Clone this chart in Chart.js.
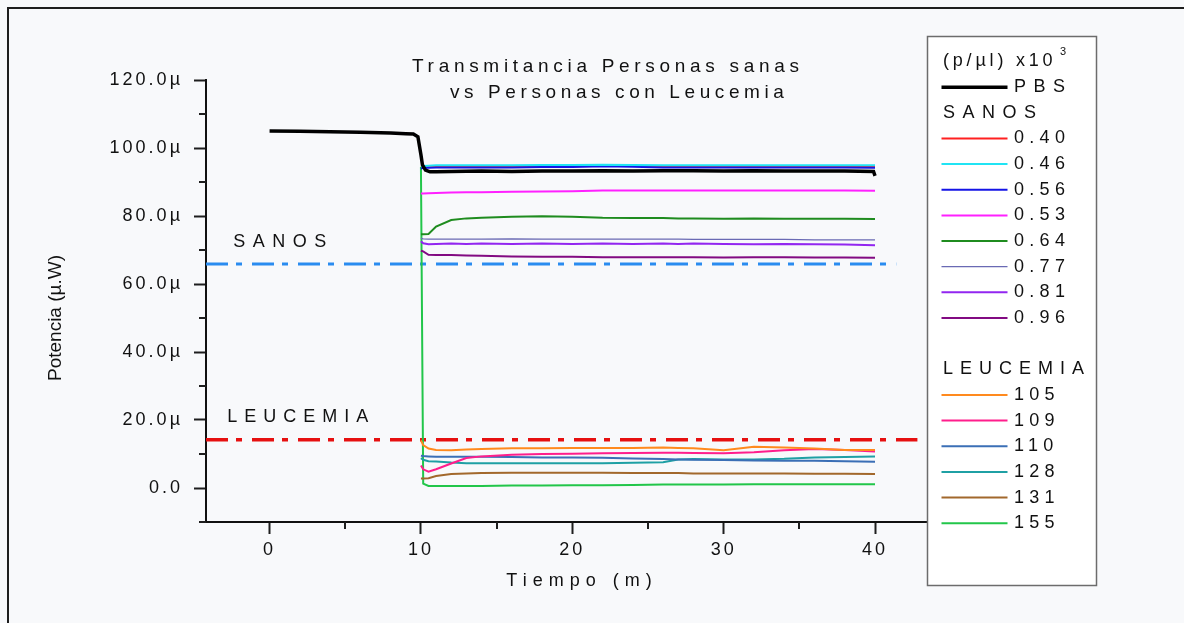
<!DOCTYPE html>
<html>
<head>
<meta charset="utf-8">
<script src="https://cdn.jsdelivr.net/npm/chart.js@4/dist/chart.umd.min.js"></script>
<style>
  html, body { margin: 0; padding: 0; background: #f8f9fb; }
  canvas { display: block; }
</style>
</head>
<body>
<canvas id="chart" width="1184" height="623"></canvas>
<script>
// ---- data (time in minutes, power in microwatts) ----
const tPBS = [0, 2, 4, 6, 8, 9, 9.5, 9.8, 10, 10.1, 10.3, 10.6, 11, 12, 14, 16, 18, 20, 22, 24, 26, 28, 30, 32, 34, 36, 38, 39.9, 40];
const pbs  = [105.0, 104.9, 104.8, 104.6, 104.4, 104.2, 104.1, 103.3, 98.0, 95.0, 93.5, 93.0, 93.0, 93.1, 93.2, 93.1, 93.2, 93.2, 93.3, 93.2, 93.3, 93.3, 93.2, 93.3, 93.2, 93.2, 93.2, 93.1, 91.8];

const tAfter = [10, 10.15, 10.5, 11, 12, 13, 14, 16, 18, 20, 22, 24, 26, 27, 28, 30, 32, 34, 36, 38, 40];

// sanos
const s040 = [94.5, 94.5, 94.6, 94.6, 94.6, 94.6, 94.6, 94.6, 94.6, 94.6, 94.7, 94.7, 94.6, 94.6, 94.6, 94.6, 94.6, 94.6, 94.6, 94.6, 94.6];
const s046 = [94.6, 94.7, 94.8, 94.9, 94.9, 94.9, 94.9, 94.9, 95.0, 95.0, 95.1, 95.0, 94.9, 94.9, 94.9, 94.9, 94.9, 94.9, 94.9, 94.9, 94.9];
const s056 = [94.0, 94.1, 94.2, 94.3, 94.3, 94.3, 94.3, 94.3, 94.4, 94.4, 94.6, 94.5, 94.3, 94.3, 94.3, 94.3, 94.3, 94.3, 94.3, 94.3, 94.2];
const s053 = [86.6, 86.6, 86.7, 86.8, 86.9, 87.0, 87.0, 87.1, 87.2, 87.3, 87.5, 87.5, 87.5, 87.5, 87.5, 87.5, 87.5, 87.5, 87.5, 87.5, 87.4];
const s064 = [74.6, 74.6, 74.7, 76.9, 78.8, 79.3, 79.5, 79.8, 79.9, 79.8, 79.5, 79.4, 79.4, 79.3, 79.3, 79.2, 79.3, 79.2, 79.2, 79.2, 79.1];
const s077 = [73.4, 73.3, 73.2, 73.2, 73.2, 73.2, 73.2, 73.3, 73.2, 73.2, 73.2, 73.2, 73.2, 73.2, 73.1, 73.1, 73.1, 73.1, 73.0, 73.0, 73.0];
const s081 = [72.6, 72.0, 71.7, 71.8, 71.9, 71.8, 71.9, 71.8, 71.9, 71.8, 71.9, 71.8, 71.9, 71.8, 71.9, 71.8, 71.7, 71.8, 71.7, 71.6, 71.4];
const s096 = [69.8, 69.6, 68.6, 68.5, 68.5, 68.4, 68.3, 68.1, 68.0, 68.0, 67.9, 67.9, 67.9, 67.9, 67.9, 67.8, 67.9, 67.9, 67.8, 67.8, 67.7];

// leucemia
const l105 = [14.0, 12.6, 11.6, 11.2, 11.1, 11.3, 11.5, 11.7, 11.7, 11.8, 11.8, 11.8, 11.9, 11.8, 11.7, 11.1, 12.1, 11.9, 11.6, 11.2, 11.2];
const l109 = [6.6, 5.5, 4.8, 5.5, 7.2, 8.8, 9.3, 9.8, 10.0, 10.1, 10.2, 10.3, 10.4, 10.4, 10.3, 10.2, 10.5, 11.1, 11.5, 11.2, 10.7];
const l110 = [9.5, 9.4, 9.3, 9.2, 9.2, 9.2, 9.2, 9.1, 9.0, 9.0, 8.9, 8.7, 8.5, 8.4, 8.3, 8.2, 8.1, 8.0, 8.0, 7.9, 7.7];
const l128 = [8.8, 8.3, 7.9, 7.8, 7.5, 7.3, 7.3, 7.3, 7.3, 7.3, 7.3, 7.4, 7.6, 8.4, 8.5, 8.4, 8.4, 8.6, 9.0, 9.1, 9.3];
const l131 = [2.8, 2.8, 2.9, 3.5, 4.1, 4.3, 4.4, 4.5, 4.5, 4.5, 4.5, 4.4, 4.4, 4.4, 4.3, 4.3, 4.3, 4.3, 4.2, 4.2, 4.1];
const l155 = [94.5, 1.3, 0.6, 0.6, 0.6, 0.6, 0.6, 0.7, 0.7, 0.8, 0.8, 0.9, 1.0, 1.0, 1.0, 1.0, 1.1, 1.1, 1.1, 1.1, 1.1];

const sanosLabels = ['0.40', '0.46', '0.56', '0.53', '0.64', '0.77', '0.81', '0.96'];
const sanosSeries = [s040, s046, s056, s053, s064, s077, s081, s096];
const leucLabels = ['105', '109', '110', '128', '131', '155'];
const leucSeries = [l105, l109, l110, l128, l131, l155];

// reference levels (dash-dot lines)
const refSanos = 65.9;
const refSanosX = [-4.2, 41.4];
const refLeuc = 14.2;
const refLeucX = [-4.2, 42.8];

const xTicks = [0, 10, 20, 30, 40];
const xMinor = [5, 15, 25, 35];
const yTicks = [0, 20, 40, 60, 80, 100, 120];
const yMinor = [-10, 10, 30, 50, 70, 90, 110];

// ---- styles ----
const sanosColors = ['#ff2020', '#20e4f4', '#1414e6', '#ff20ff', '#1f8c1f', '#6a6ab4', '#9226f0', '#820a82'];
const sanosWidths = [2, 2, 2, 2, 2, 1.2, 2, 2];
const leucColors = ['#ff8a1e', '#ff1e8c', '#3b6fb6', '#1fa0a4', '#a2682c', '#22c64a'];

const FONT = "'Liberation Sans', Arial, sans-serif";

function pts(xs, ys) {
  return xs.map((x, i) => ({ x: x, y: ys[i] }));
}

const datasets = [];
datasets.push({ label: 'PBS', data: pts(tPBS, pbs), borderColor: '#000000', borderWidth: 3.5, order: 0 });
sanosSeries.forEach((s, i) => {
  datasets.push({ label: sanosLabels[i], data: pts(tAfter, s), borderColor: sanosColors[i], borderWidth: sanosWidths[i], order: i === 0 ? 5 : 1 });
});
leucSeries.forEach((s, i) => {
  datasets.push({ label: leucLabels[i], data: pts(tAfter, s), borderColor: leucColors[i], borderWidth: 2, order: 2 });
});
datasets.push({ label: 'refSanos', data: pts(refSanosX, [refSanos, refSanos]), borderColor: '#2a8cf0', borderWidth: 3, borderDash: [22, 8, 6, 10], order: 3 });
datasets.push({ label: 'refLeuc', data: pts(refLeucX, [refLeuc, refLeuc]), borderColor: '#e61010', borderWidth: 3.5, borderDash: [22, 8, 6, 10], order: 3 });

function spacedText(ctx, text, x, y, size, spacing, align) {
  ctx.font = size + 'px ' + FONT;
  ctx.letterSpacing = spacing + 'px';
  ctx.textAlign = align || 'left';
  ctx.fillText(text, x, y);
}

const decor = {
  id: 'decor',
  beforeDraw(chart) {
    const ctx = chart.ctx;
    ctx.save();
    ctx.strokeStyle = '#1e1e1e';
    ctx.lineWidth = 2;
    ctx.beginPath();
    ctx.moveTo(8, 623);
    ctx.lineTo(8, 8);
    ctx.lineTo(1184, 8);
    ctx.stroke();
    ctx.restore();
    // tick labels are letter-spaced in the original
    ctx.letterSpacing = '3px';
  },
  afterDraw(chart) {
    const ctx = chart.ctx;
    const xs = chart.scales.x, ys = chart.scales.y;
    const area = chart.chartArea;
    ctx.save();
    // minor ticks
    ctx.strokeStyle = '#1e1e1e';
    ctx.lineWidth = 2;
    ctx.beginPath();
    yMinor.forEach(v => {
      const py = Math.round(ys.getPixelForValue(v));
      ctx.moveTo(area.left - 7, py);
      ctx.lineTo(area.left, py);
    });
    xMinor.forEach(v => {
      const px = Math.round(xs.getPixelForValue(v));
      ctx.moveTo(px, area.bottom);
      ctx.lineTo(px, area.bottom + 7);
    });
    ctx.stroke();

    ctx.fillStyle = '#111';
    ctx.textBaseline = 'alphabetic';
    // title
    spacedText(ctx, 'Transmitancia Personas sanas', 412, 72, 19, 4.7);
    spacedText(ctx, 'vs Personas con Leucemia', 450, 98, 19, 4.6);
    // group labels above the reference lines
    spacedText(ctx, 'SANOS', xs.getPixelForValue(-2.4), ys.getPixelForValue(refSanos) - 17, 18, 7.5);
    spacedText(ctx, 'LEUCEMIA', xs.getPixelForValue(-2.8), ys.getPixelForValue(refLeuc) - 18, 18, 7);
    // axis titles
    spacedText(ctx, 'Tiempo (m)', 582, 586, 18, 6, 'center');
    ctx.save();
    ctx.translate(56, 318);
    ctx.rotate(-Math.PI / 2);
    ctx.textBaseline = 'middle';
    spacedText(ctx, 'Potencia (\u00b5.W)', 0, 0, 19, 0, 'center');
    ctx.restore();

    // legend box
    const bx = 927.5, by = 36.5, bw = 169, bh = 549;
    ctx.fillStyle = '#ffffff';
    ctx.fillRect(bx, by, bw, bh);
    ctx.strokeStyle = '#6c6c6c';
    ctx.lineWidth = 1.5;
    ctx.strokeRect(bx, by, bw, bh);

    const ds = chart.data.datasets;
    const rows = [{ head: '(p/\u00b5l) x10' }, { ds: 0 }, { head: 'SANOS' }];
    for (let i = 1; i <= sanosLabels.length; i++) rows.push({ ds: i });
    rows.push({});
    rows.push({ head: 'LEUCEMIA' });
    for (let i = 0; i < leucLabels.length; i++) rows.push({ ds: 1 + sanosLabels.length + i });

    ctx.textBaseline = 'middle';
    rows.forEach((r, i) => {
      const y = 61.5 + i * 25.65;
      ctx.fillStyle = '#111';
      if (r.head) {
        if (r.head.startsWith('(')) {
          spacedText(ctx, r.head, 943, y, 18, 3.8);
          spacedText(ctx, '3', 1060, y - 10, 11, 0);
        } else {
          spacedText(ctx, r.head, 943, y, 18, r.head === 'LEUCEMIA' ? 7 : 7.5);
        }
      } else if (r.ds !== undefined) {
        const d = ds[r.ds];
        ctx.strokeStyle = d.borderColor;
        ctx.lineWidth = d.borderWidth;
        ctx.beginPath();
        ctx.moveTo(941.5, y);
        ctx.lineTo(1007.5, y);
        ctx.stroke();
        const isNum = /^[\d.]+$/.test(d.label);
        spacedText(ctx, d.label, 1014, y, 18, isNum ? 5.3 : 7.5);
      }
    });
    ctx.restore();
  }
};

new Chart(document.getElementById('chart'), {
  type: 'line',
  data: { datasets: datasets },
  options: {
    responsive: false,
    devicePixelRatio: 1,
    animation: false,
    events: [],
    layout: { padding: { left: 0, top: 80, right: 256, bottom: 61 } },
    elements: { point: { radius: 0 }, line: { tension: 0, fill: false } },
    plugins: { legend: { display: false }, tooltip: { enabled: false }, title: { display: false } },
    scales: {
      x: {
        type: 'linear',
        min: -4.2,
        max: 43.5,
        afterBuildTicks: s => { s.ticks = xTicks.map(v => ({ value: v })); },
        afterFit: s => { s.height = 40; },
        grid: { drawOnChartArea: false, tickLength: 12, tickColor: '#1e1e1e', tickWidth: 2 },
        border: { color: '#111', width: 2 },
        ticks: { color: '#111', font: { family: FONT, size: 18 }, padding: 5, maxRotation: 0, autoSkip: false }
      },
      y: {
        type: 'linear',
        min: -10,
        max: 120,
        afterBuildTicks: s => { s.ticks = yTicks.map(v => ({ value: v })); },
        afterFit: s => { s.width = 206; },
        grid: { drawOnChartArea: false, tickLength: 12, tickColor: '#1e1e1e', tickWidth: 2 },
        border: { color: '#111', width: 2 },
        ticks: {
          color: '#111',
          font: { family: FONT, size: 18 },
          padding: 11,
          callback: v => v === 0 ? '0.0' : v.toFixed(1) + '\u00b5'
        }
      }
    }
  },
  plugins: [decor]
});
</script>
</body>
</html>
